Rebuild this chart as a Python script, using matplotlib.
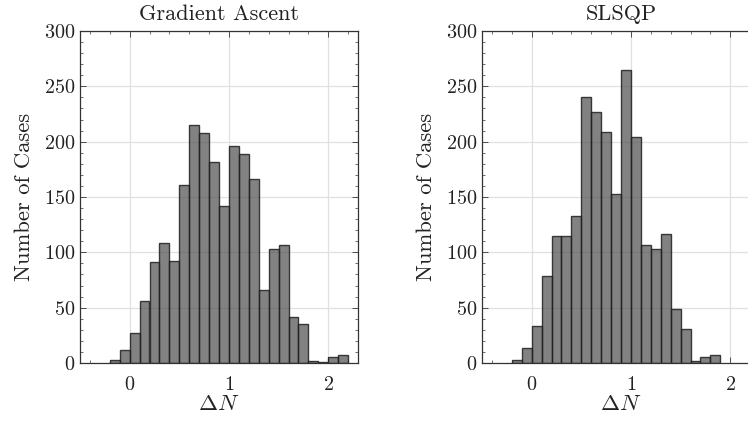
import matplotlib
matplotlib.use('Agg')
import matplotlib.pyplot as plt
import numpy as np
from matplotlib.ticker import MultipleLocator

plt.rcParams['font.family'] = 'cmr10'
plt.rcParams['mathtext.fontset'] = 'cm'
plt.rcParams['axes.unicode_minus'] = False
plt.rcParams['axes.formatter.use_mathtext'] = True

# histogram bins (width 0.1) and counts per method
edges_ga = np.round(np.arange(-0.2, 2.2001, 0.1), 2)
counts_ga = [3, 12, 27, 56, 91, 108, 92, 161, 215, 208, 182, 142,
             196, 189, 166, 66, 103, 107, 42, 35, 2, 1, 5, 7]

edges_sq = np.round(np.arange(-0.2, 1.9001, 0.1), 2)
counts_sq = [3, 14, 33, 79, 115, 115, 133, 240, 227, 209, 153, 265,
             204, 107, 103, 117, 49, 31, 2, 5, 7]

titles = ['Gradient Ascent', 'SLSQP']
xticks = [0, 1, 2]
yticks = [0, 50, 100, 150, 200, 250, 300]

fig = plt.figure(figsize=(7.48, 4.22), dpi=100)
ax1 = fig.add_axes([80 / 748, 59 / 422, 278 / 748, 332 / 422])
ax2 = fig.add_axes([482 / 748, 59 / 422, 278 / 748, 332 / 422])

for ax, edges, counts, title in [(ax1, edges_ga, counts_ga, titles[0]),
                                 (ax2, edges_sq, counts_sq, titles[1])]:
    ax.set_axisbelow(True)
    ax.grid(True, color='#e0e0e0', linewidth=0.9)
    ax.hist(edges[:-1], bins=edges, weights=counts,
            facecolor=(0.3, 0.3, 0.3, 0.7), edgecolor=(0.12, 0.12, 0.12, 0.85),
            linewidth=1.0)
    ax.set_xlim(-0.5, 2.3)
    ax.set_ylim(0, 300)
    ax.set_xticks(xticks)
    ax.set_yticks(yticks)
    ax.xaxis.set_minor_locator(MultipleLocator(0.2))
    ax.yaxis.set_minor_locator(MultipleLocator(10))
    ax.tick_params(which='both', direction='in', top=True, right=True,
                   colors='#333333', labelcolor='#222222', labelsize=14.5)
    ax.tick_params(axis='x', which='major', pad=9)
    ax.tick_params(which='major', length=4, width=0.6)
    ax.tick_params(which='minor', length=2.5, width=0.5)
    for s in ax.spines.values():
        s.set_color('#333333')
        s.set_linewidth(0.9)
    ax.set_title(title, fontsize=16, color='#222222', pad=8)
    ax.set_xlabel(r'$\Delta N$', fontsize=16.5, color='#222222', labelpad=1)
    ax.set_ylabel('Number of Cases', fontsize=16.3, color='#222222', labelpad=7)

fig.savefig('out.png', dpi=100)
